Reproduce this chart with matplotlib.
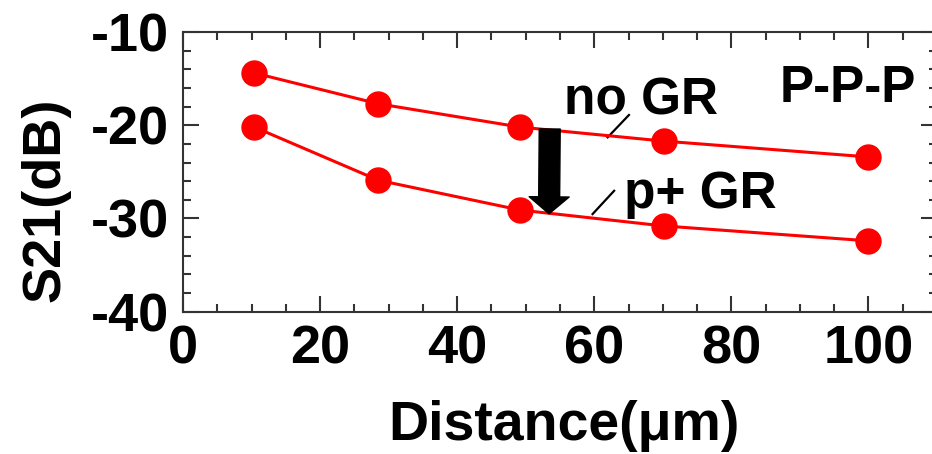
import matplotlib
matplotlib.use("Agg")
import matplotlib.pyplot as plt
from matplotlib.ticker import MultipleLocator

# Measured S21 isolation versus distance
distance = [10.4, 28.5, 49.2, 70.1, 100.0]
s21_no_gr = [-14.4, -17.7, -20.2, -21.7, -23.4]
s21_p_gr = [-20.2, -25.9, -29.1, -30.8, -32.4]

xticks = [0, 20, 40, 60, 80, 100]
yticks = [-10, -20, -30, -40]

plt.rcParams["axes.unicode_minus"] = False
plt.rcParams["font.family"] = ["Liberation Sans", "DejaVu Sans"]
plt.rcParams["font.weight"] = "bold"

W, H = 932, 454
fig = plt.figure(figsize=(W / 100, H / 100), dpi=100)
ax = fig.add_axes([183 / W, 1 - 311.7 / H, (937 - 183) / W, (311.7 - 32) / H])

red = "#ff0000"
for ys in (s21_no_gr, s21_p_gr):
    ax.plot(distance, ys, color=red, lw=2.2, marker="o", ms=18,
            markerfacecolor=red, markeredgecolor=red, zorder=3)

ax.set_xlim(0, 110)
ax.set_ylim(-40, -10)
ax.set_xticks(xticks)
ax.set_yticks(yticks)
ax.xaxis.set_minor_locator(MultipleLocator(5))
ax.yaxis.set_minor_locator(MultipleLocator(2))

for s in ax.spines.values():
    s.set_linewidth(1.5)
    s.set_color("#333333")
ax.tick_params(which="both", direction="in", top=True, right=True,
               width=1.5, color="#333333")
ax.tick_params(which="major", length=11.5)
ax.tick_params(which="minor", length=6)
ax.tick_params(axis="x", which="major", pad=9)
ax.tick_params(axis="y", which="major", pad=10)

for lab in ax.get_xticklabels() + ax.get_yticklabels():
    lab.set_fontweight("bold")
    lab.set_fontsize(39)

# Axis titles
fig.text(46 / W, 1 - 199.5 / H, "S21(dB)", rotation=90, ha="center",
         va="center", fontsize=39, fontweight="bold")
fig.text(564 / W, 14 / H, "Distance(\u03bcm)", ha="center", va="baseline",
         fontsize=40, fontweight="bold")

# Labels and leader lines for the two curves
ax.text(55.6, -18.9, "no GR", ha="left", va="baseline", fontsize=37,
        fontweight="bold")
ax.plot([65.06, 61.95], [-18.9, -21.3], color="black", lw=1.6)
ax.text(64.3, -28.9, "p+ GR", ha="left", va="baseline", fontsize=37,
        fontweight="bold")
ax.plot([62.9, 59.75], [-27.03, -29.53], color="black", lw=1.6)
ax.text(107.0, -17.5, "P-P-P", ha="right", va="baseline", fontsize=37,
        fontweight="bold")

# Arrow showing the isolation improvement
ax.annotate("", xy=(53.4, -29.5), xytext=(53.5, -20.4),
            arrowprops=dict(arrowstyle="simple,head_length=1.22,head_width=2.88,tail_width=1.51",
                            mutation_scale=10, color="black", shrinkA=0, shrinkB=0),
            zorder=4)

fig.savefig("out.png", dpi=100)
